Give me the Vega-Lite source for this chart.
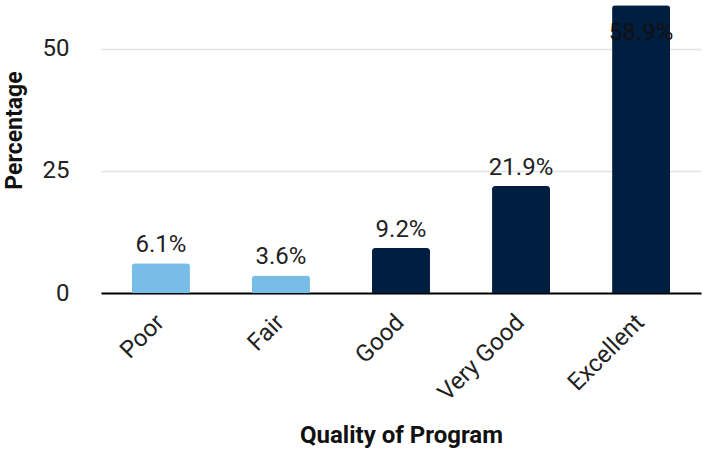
{
  "$schema": "https://vega.github.io/schema/vega-lite/v6.json",
  "width": 600,
  "height": 293,
  "autosize": {"type": "none"},
  "padding": {"left": 101, "top": 0, "right": 2, "bottom": 158},
  "background": "white",
  "config": {
    "font": "Roboto",
    "view": {"stroke": null}
  },
  "data": {
    "values": [
      {"category": "Poor", "value": 6.1},
      {"category": "Fair", "value": 3.6},
      {"category": "Good", "value": 9.2},
      {"category": "Very Good", "value": 21.9},
      {"category": "Excellent", "value": 58.9}
    ]
  },
  "encoding": {
    "x": {
      "field": "category",
      "type": "nominal",
      "sort": null,
      "scale": {"paddingInner": 0.517, "paddingOuter": 0.258},
      "axis": {
        "title": "Quality of Program",
        "titleFontSize": 24,
        "titleFontWeight": "bold",
        "titleColor": "#111",
        "titlePadding": 18,
        "labelAngle": -45,
        "labelFontSize": 24,
        "labelColor": "#222",
        "labelPadding": 17,
        "labelOffset": -9,
        "ticks": false,
        "domainColor": "#000",
        "domainWidth": 2
      }
    },
    "y": {
      "field": "value",
      "type": "quantitative",
      "scale": {"domain": [0, 60], "nice": false},
      "axis": {
        "title": "Percentage",
        "titleFontSize": 23,
        "titleFontWeight": "bold",
        "titleColor": "#111",
        "titleBaseline": "middle",
        "titleX": -87,
        "titleY": 130,
        "values": [0, 25, 50],
        "labelFontSize": 24,
        "labelColor": "#222",
        "labelPadding": 32,
        "ticks": false,
        "domain": false,
        "gridColor": "#e3e3e3",
        "gridWidth": 1.5
      }
    }
  },
  "layer": [
    {
      "mark": {"type": "bar", "cornerRadiusTopLeft": 3, "cornerRadiusTopRight": 3},
      "encoding": {
        "color": {
          "condition": {"test": "datum.category == 'Poor' || datum.category == 'Fair'", "value": "#78bde8"},
          "value": "#001e3f"
        }
      }
    },
    {
      "transform": [
        {"filter": "datum.value < 50"},
        {"calculate": "format(datum.value, '.1f') + '%'", "as": "label"}
      ],
      "mark": {"type": "text", "baseline": "alphabetic", "dy": -11, "fontSize": 24, "color": "#222"},
      "encoding": {
        "text": {"field": "label", "type": "nominal"}
      }
    },
    {
      "transform": [
        {"filter": "datum.value >= 50"},
        {"calculate": "format(datum.value, '.1f') + '%'", "as": "label"}
      ],
      "mark": {"type": "text", "baseline": "alphabetic", "dy": 35, "fontSize": 24, "color": "#111"},
      "encoding": {
        "text": {"field": "label", "type": "nominal"}
      }
    }
  ]
}
